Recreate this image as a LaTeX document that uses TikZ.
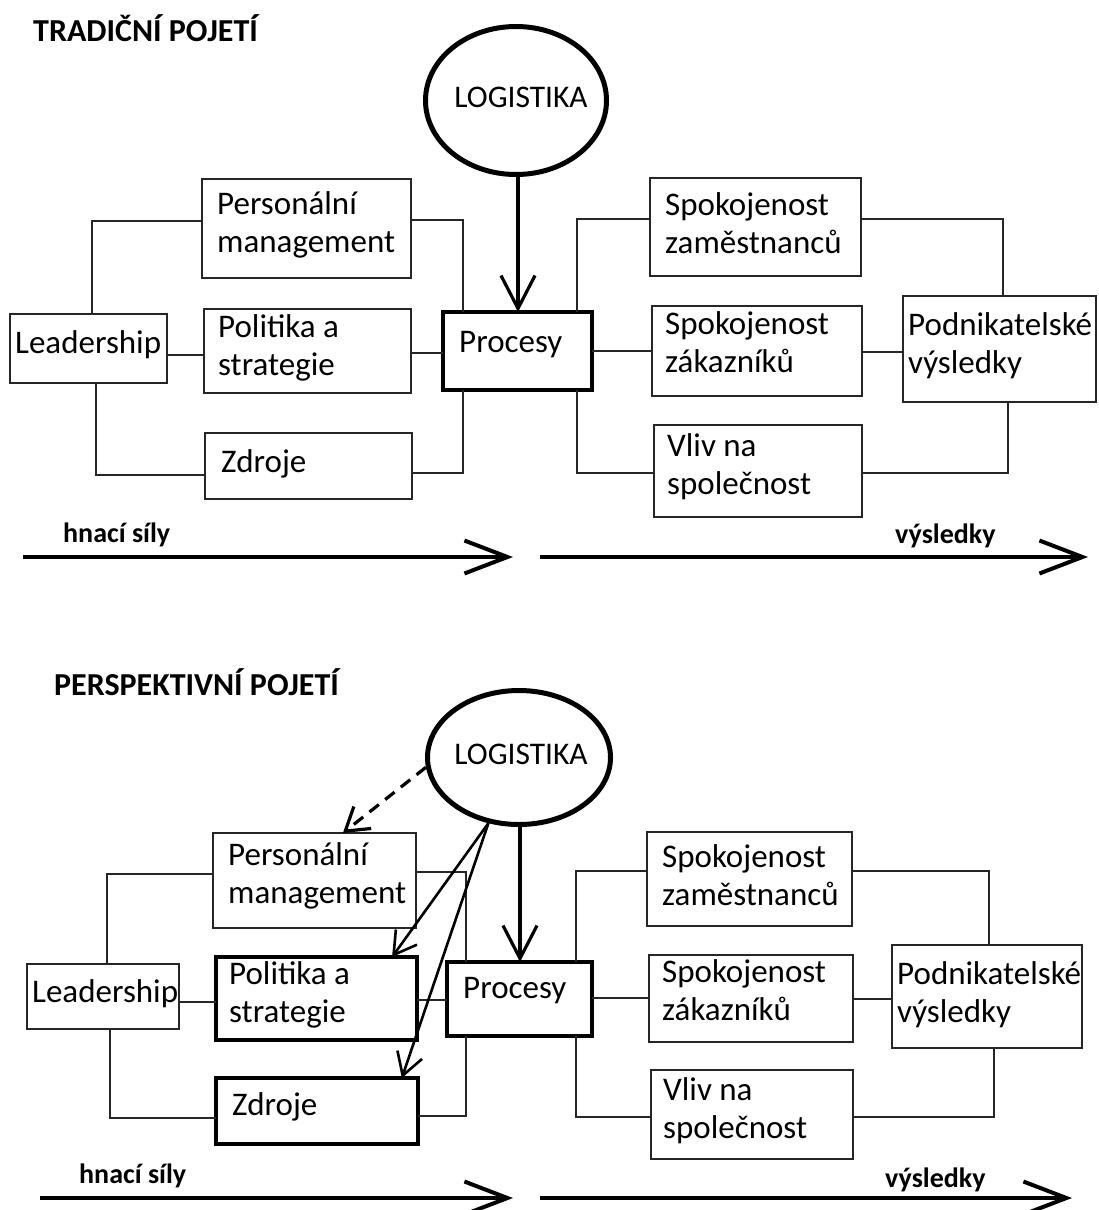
\documentclass[tikz,border=0pt]{standalone}
\usepackage{fontspec}
\setmainfont{Carlito}
\usetikzlibrary{shapes.geometric,arrows.meta,calc}
\tikzset{
  box/.style={draw=black!85, line width=1.4pt, inner sep=0pt, outer sep=0pt},
  boldbox/.style={draw=black, line width=4.5pt},
  midbox/.style={draw=black, line width=3.6pt},
  conn/.style={draw=black!85, line width=1.4pt},
  txt/.style={font=\fontsize{33}{38}\selectfont, anchor=base west, align=left, inner sep=0pt},
  lab/.style={font=\bfseries\fontsize{28}{34}\selectfont, anchor=base west, inner sep=0pt},
  ttl/.style={font=\bfseries\fontsize{32}{38}\selectfont, anchor=base west, inner sep=0pt},
  logi/.style={ellipse, draw=black, line width=5pt, inner sep=0pt},
  logtxt/.style={font=\fontsize{31.5}{38}\selectfont, inner sep=0pt},
  bigarrow/.style={line width=4pt, -{Straight Barb[length=43pt,width=33pt]}},
  downarrow/.style={line width=3.2pt, -{Straight Barb[length=33pt,width=34pt]}},
  slantarrow/.style={line width=2.6pt, -{Straight Barb[length=22pt,width=26pt]}},
  dasharrow/.style={line width=3.2pt, dash pattern=on 12pt off 8pt, -{Straight Barb[length=22pt,width=28pt]}},
}
% box: [style] name x1 y1 x2 y2
\newcommand\bx[6][]{\node[box,#1, minimum width={#5-#3}, minimum height={#6-#4}, anchor=north west] (#2) at (#3,#4) {};}
\begin{document}
\begin{tikzpicture}[x=1pt,y=-1pt]
\useasboundingbox (0,0) rectangle (1098,1210);

% ================= TOP: TRADICNI POJETI =================
\node[ttl] (title1) at (33,41) {TRADIČNÍ POJETÍ};

\node[logi, minimum width=181pt, minimum height=148pt] (log1) at (516,100.5) {};
\node[logtxt] (log1t) at (521,97) {LOGISTIKA};

\bx{pers1}{202}{179}{411}{278}
\bx{pol1}{204}{309}{411}{393}
\bx{zdr1}{205}{433}{412}{499}
\bx{lead1}{10}{314}{167}{383}
\bx[boldbox]{proc1}{443}{312}{592}{390}
\bx{sz1}{650}{178}{861}{276}
\bx{szk1}{652}{306}{862}{396}
\bx{vliv1}{654}{425}{862}{517}
\bx{pod1}{903}{296}{1096}{402}

% (base anchor of a two-line node = baseline of its last line)
\node[txt] (pers1t) at (217,252) {Personální\\management};
\node[txt] (pol1t) at (218,375) {Politika a\\strategie};
\node[txt] (zdr1t) at (221,472) {Zdroje};
\node[txt] (lead1t) at (15,353) {Leadership};
\node[txt] (proc1t) at (459,352) {Procesy};
\node[txt] (sz1t) at (665,253) {Spokojenost\\zaměstnanců};
\node[txt] (szk1t) at (665,372) {Spokojenost\\zákazníků};
\node[txt] (vliv1t) at (667,494) {Vliv na\\společnost};
\node[txt] (pod1t) at (908,373) {Podnikatelské\\výsledky};

\draw[conn] (lead1.north -| 92,0) |- (pers1.west |- 0,221);
\draw[conn] (lead1.south -| 96,0) |- (zdr1.west |- 0,475);
\draw[conn] (lead1.east |- 0,355) -- (pol1.west |- 0,355);
\draw[conn] (pers1.east |- 0,220) -| (proc1.north -| 463,0);
\draw[conn] (pol1.east |- 0,353) -- (proc1.west |- 0,353);
\draw[conn] (zdr1.east |- 0,473) -| (proc1.south -| 463,0);
\draw[conn] (proc1.north -| 577,0) |- (sz1.west |- 0,219);
\draw[conn] (proc1.east |- 0,351) -- (szk1.west |- 0,351);
\draw[conn] (proc1.south -| 577,0) |- (vliv1.west |- 0,473);
\draw[conn] (sz1.east |- 0,219) -| (pod1.north -| 1003,0);
\draw[conn] (szk1.east |- 0,352) -- (pod1.west |- 0,352);
\draw[conn] (vliv1.east |- 0,473) -| (pod1.south -| 1008,0);

\draw[downarrow] (log1.south -| 518,0) -- (proc1.north -| 518,0);

\node[lab] (hn1) at (63,542) {hnací síly};
\node[lab] (vy1) at (895,543) {výsledky};
\coordinate (a1s) at (23,557);
\coordinate (a1e) at (513,557);
\coordinate (b1s) at (540,557);
\coordinate (b1e) at (1088,557);
\draw[bigarrow] (a1s) -- (a1e);
\draw[bigarrow] (b1s) -- (b1e);

% ================= BOTTOM: PERSPEKTIVNI POJETI =================
\node[ttl] (title2) at (54,695) {PERSPEKTIVNÍ POJETÍ};

\node[logi, minimum width=183pt, minimum height=134pt] (log2) at (519,757.5) {};
\node[logtxt] (log2t) at (521,754) {LOGISTIKA};

\bx{pers2}{213}{833}{416}{928}
\bx[boldbox]{pol2}{216}{957}{417}{1040}
\bx[boldbox]{zdr2}{216}{1078}{418}{1144}
\bx{lead2}{27}{964}{179}{1029}
\bx[midbox]{proc2}{447}{962}{592}{1036}
\bx{sz2}{647}{832}{852}{926}
\bx{szk2}{649}{955}{853}{1042}
\bx{vliv2}{651}{1070}{853}{1159}
\bx{pod2}{892}{945}{1082}{1048}

\node[txt] (pers2t) at (228,903) {Personální\\management};
\node[txt] (pol2t) at (229,1022) {Politika a\\strategie};
\node[txt] (zdr2t) at (232,1115) {Zdroje};
\node[txt] (lead2t) at (32,1002) {Leadership};
\node[txt] (proc2t) at (463,998) {Procesy};
\node[txt] (sz2t) at (662,905) {Spokojenost\\zaměstnanců};
\node[txt] (szk2t) at (662,1020) {Spokojenost\\zákazníků};
\node[txt] (vliv2t) at (663,1138) {Vliv na\\společnost};
\node[txt] (pod2t) at (897,1022) {Podnikatelské\\výsledky};

\draw[conn] (lead2.north -| 107,0) |- (pers2.west |- 0,874);
\draw[conn] (lead2.south -| 110,0) |- (zdr2.west |- 0,1118);
\draw[conn] (lead2.east |- 0,1002) -- (pol2.west |- 0,1002);
\draw[conn] (pers2.east |- 0,872) -| (proc2.north -| 466,0);
\draw[conn] (pol2.east |- 0,1000) -- (proc2.west |- 0,1000);
\draw[conn] (zdr2.east |- 0,1116) -| (proc2.south -| 466,0);
\draw[conn] (proc2.north -| 576,0) |- (sz2.west |- 0,871);
\draw[conn] (proc2.east |- 0,998) -- (szk2.west |- 0,998);
\draw[conn] (proc2.south -| 576,0) |- (vliv2.west |- 0,1117);
\draw[conn] (sz2.east |- 0,871) -| (pod2.north -| 989,0);
\draw[conn] (szk2.east |- 0,999) -- (pod2.west |- 0,999);
\draw[conn] (vliv2.east |- 0,1117) -| (pod2.south -| 994,0);

\draw[downarrow] (log2.south -| 520,0) -- (proc2.north -| 520,0);
\draw[dasharrow] (log2.186) -- ($(pers2.north west)!0.64!(pers2.north east)$);
\draw[slantarrow] (log2.245) -- ($(pol2.north west)!0.876!(pol2.north east)$);
\draw[slantarrow] (log2.245) -- ($(zdr2.north west)!0.92!(zdr2.north east)$);

\node[lab] (hn2) at (79,1183) {hnací síly};
\node[lab] (vy2) at (885,1187) {výsledky};
\coordinate (a2s) at (40,1198);
\coordinate (a2e) at (513,1198);
\coordinate (b2s) at (540,1198);
\coordinate (b2e) at (1072,1198);
\draw[bigarrow] (a2s) -- (a2e);
\draw[bigarrow] (b2s) -- (b2e);
\end{tikzpicture}
\end{document}
